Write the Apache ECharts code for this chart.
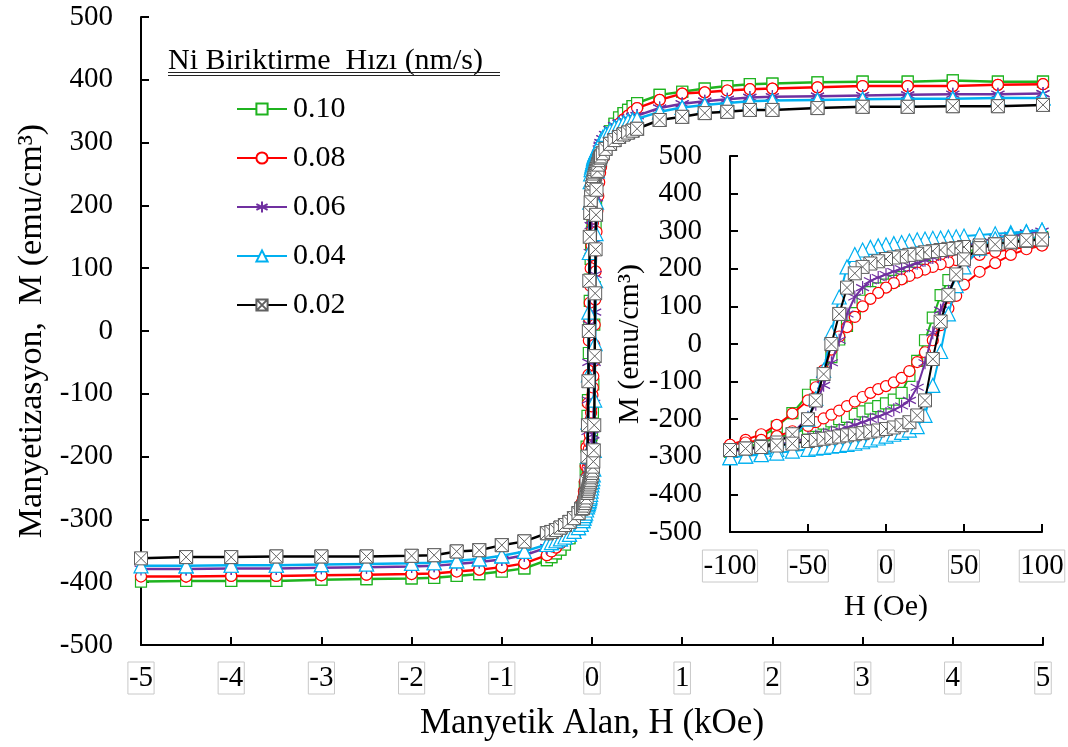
<!DOCTYPE html>
<html>
<head>
<meta charset="utf-8">
<script src="https://cdn.jsdelivr.net/npm/echarts@6/dist/echarts.min.js"></script>
<style>
  html, body { margin: 0; padding: 0; background: #ffffff; }
  #chart { width: 1068px; height: 747px; }
</style>
</head>
<body>
<div id="chart"></div>
<script>
// Ni deposition rates (nm/s), one hysteresis loop each
const SERIES_NAMES = ['0.10', '0.08', '0.06', '0.04', '0.02'];

// High-field points (kOe), shared by both branches of each loop
const H_POS_KOE = [0.12, 0.15, 0.2, 0.25, 0.3, 0.35, 0.4, 0.45, 0.5, 0.75, 1, 1.25, 1.5, 1.75, 2, 2.5, 3, 3.5, 4, 4.5, 5];
const H_NEG_KOE = [-0.12, -0.15, -0.2, -0.25, -0.3, -0.35, -0.4, -0.45, -0.5, -0.75, -1, -1.25, -1.5, -1.75, -2, -2.5, -3, -3.5, -4, -4.5, -5];

// Low-field points (Oe): descending branch (+100 -> -100) and ascending branch (-100 -> +100)
const H_DESC_OE = [100, 90, 80, 70, 60, 50, 45, 40, 35, 30, 25, 20, 15, 10, 5, 0, -5, -10, -15, -20, -25, -30, -35, -40, -45, -50, -60, -70, -80, -90, -100];
const H_ASC_OE = [-100, -90, -80, -70, -60, -50, -45, -40, -35, -30, -25, -20, -15, -10, -5, 0, 5, 10, 15, 20, 25, 30, 35, 40, 45, 50, 60, 70, 80, 90, 100];

// Magnetization (emu/cm3) — 0.10 nm/s
const M_POS_010 = [292, 303, 318, 330, 340, 347, 352, 358, 363, 376, 381, 386, 390, 393, 394, 396, 397, 397, 399, 397, 397];
const M_NEG_010 = [-292, -303, -318, -330, -340, -348, -354, -360, -365, -378, -383, -387, -390, -393, -394, -395, -396, -398, -398, -398, -399];
const M_DESC_010 = [284, 280, 273, 265, 255, 243, 237, 230, 222, 215, 207, 198, 190, 178, 168, 158, 148, 138, 115, 82, 48, 12, -35, -80, -110, -135, -184, -220, -248, -272, -286];
const M_ASC_010 = [-286, -275, -262, -250, -238, -225, -218, -212, -206, -200, -194, -186, -179, -172, -165, -158, -148, -130, -85, -45, 10, 70, 130, 170, 200, 230, 255, 267, 275, 280, 284];

// 0.08 nm/s
const M_POS_008 = [275, 290, 308, 320, 330, 337, 343, 349, 355, 368, 378, 380, 383, 385, 386, 388, 390, 390, 390, 392, 393];
const M_NEG_008 = [-275, -290, -308, -320, -330, -338, -345, -351, -357, -370, -376, -380, -383, -386, -387, -388, -389, -390, -390, -391, -391];
const M_DESC_008 = [262, 258, 252, 245, 237, 228, 223, 218, 212, 205, 198, 190, 181, 172, 162, 150, 136, 120, 100, 72, 45, 20, -15, -70, -115, -150, -185, -215, -240, -255, -268];
const M_ASC_008 = [-268, -262, -255, -245, -232, -218, -208, -198, -188, -177, -165, -153, -141, -130, -120, -112, -102, -90, -72, -48, -22, 10, 50, 95, 128, 158, 192, 215, 237, 252, 262];

// 0.06 nm/s
const M_POS_006 = [306, 313, 321, 327, 331, 335, 338, 341, 343, 355, 362, 366, 369, 372, 373, 374, 375, 376, 377, 377, 378];
const M_NEG_006 = [-306, -313, -321, -327, -331, -335, -338, -342, -345, -357, -364, -368, -371, -374, -375, -376, -377, -378, -378, -379, -379];
const M_DESC_006 = [300, 296, 290, 282, 272, 260, 253, 245, 238, 230, 223, 215, 208, 200, 193, 185, 177, 168, 150, 125, 80, 10, -50, -110, -160, -195, -238, -262, -275, -281, -285];
const M_ASC_006 = [-285, -280, -275, -268, -260, -250, -245, -240, -234, -228, -222, -215, -208, -200, -193, -185, -175, -165, -150, -115, -50, 30, 90, 140, 180, 212, 248, 270, 284, 294, 300];

// 0.04 nm/s
const M_POS_004 = [308, 313, 319, 324, 328, 331, 334, 336, 338, 349, 356, 360, 363, 366, 367, 368, 369, 370, 370, 371, 371];
const M_NEG_004 = [-308, -313, -319, -324, -328, -331, -334, -337, -340, -351, -358, -363, -366, -369, -370, -371, -372, -373, -373, -374, -374];
const M_DESC_004 = [303, 299, 296, 293, 290, 287, 285, 284, 282, 281, 279, 277, 274, 270, 267, 264, 261, 257, 250, 238, 205, 125, 30, -70, -145, -200, -255, -280, -292, -298, -302];
const M_ASC_004 = [-302, -298, -294, -290, -285, -280, -277, -275, -272, -270, -267, -264, -260, -255, -250, -245, -240, -235, -229, -220, -190, -110, -20, 80, 155, 205, 255, 280, 292, 298, 303];

// 0.02 nm/s
const M_POS_002 = [283, 290, 298, 304, 309, 313, 316, 319, 322, 336, 341, 347, 349, 352, 352, 355, 357, 357, 358, 358, 360];
const M_NEG_002 = [-283, -290, -298, -304, -309, -313, -317, -320, -322, -335, -341, -349, -351, -357, -358, -359, -359, -359, -360, -360, -362];
const M_DESC_002 = [278, 274, 270, 266, 262, 258, 255, 253, 250, 247, 244, 240, 237, 233, 230, 226, 220, 214, 205, 188, 150, 80, 0, -80, -150, -200, -240, -262, -272, -278, -282];
const M_ASC_002 = [-282, -278, -274, -270, -265, -258, -255, -252, -249, -246, -243, -240, -237, -233, -230, -226, -222, -216, -208, -190, -150, -40, 60, 130, 185, 225, 255, 265, 272, 276, 278];

const M_SETS = [
  [M_POS_010, M_NEG_010, M_DESC_010, M_ASC_010],
  [M_POS_008, M_NEG_008, M_DESC_008, M_ASC_008],
  [M_POS_006, M_NEG_006, M_DESC_006, M_ASC_006],
  [M_POS_004, M_NEG_004, M_DESC_004, M_ASC_004],
  [M_POS_002, M_NEG_002, M_DESC_002, M_ASC_002]
];

const FONT = '"Liberation Serif", "Times New Roman", serif';

// Marker shapes: asterisk and boxed cross are drawn as stroked paths
const ASTERISK = 'path://M5 0L5 10M0.7 2.5L9.3 7.5M9.3 2.5L0.7 7.5';
const XBOX = 'path://M0 0L10 0L10 10L0 10ZM0 0L10 10M10 0L0 10';

const STYLES = [
  { color: '#1fb31f', symbol: 'rect', size: 11 },
  { color: '#ff0000', symbol: 'circle', size: 11 },
  { color: '#7030a0', symbol: ASTERISK, size: 13 },
  { color: '#00b0f0', symbol: 'triangle', size: 14 },
  { color: '#000000', symbol: XBOX, size: 13, marker: '#606060', markerWidth: 1 }
];

// Full loop in kOe: +5 -> -5 (descending) then -5 -> +5 (ascending)
function loopKOe(set) {
  const [mPos, mNeg, mDesc, mAsc] = set;
  const pts = [];
  for (let i = H_POS_KOE.length - 1; i >= 0; i--) pts.push([H_POS_KOE[i], mPos[i]]);
  H_DESC_OE.forEach((h, i) => pts.push([h / 1000, mDesc[i]]));
  H_NEG_KOE.forEach((h, i) => pts.push([h, mNeg[i]]));
  for (let i = H_NEG_KOE.length - 2; i >= 0; i--) pts.push([H_NEG_KOE[i], mNeg[i]]);
  H_ASC_OE.forEach((h, i) => pts.push([h / 1000, mAsc[i]]));
  H_POS_KOE.forEach((h, i) => pts.push([h, mPos[i]]));
  return pts;
}

function makeSeries(idx, gridIdx, lineWidth) {
  const st = STYLES[idx];
  const pts = loopKOe(M_SETS[idx]);
  const data = gridIdx === 0 ? pts : pts.map(p => [p[0] * 1000, p[1]]);
  return {
    name: SERIES_NAMES[idx],
    type: 'line',
    xAxisIndex: gridIdx,
    yAxisIndex: gridIdx,
    data: data,
    symbol: st.symbol,
    symbolSize: st.size,
    showSymbol: true,
    clip: true,
    lineStyle: { color: st.color, width: lineWidth },
    itemStyle: { color: '#ffffff', borderColor: st.marker || st.color, borderWidth: st.markerWidth || 1.2 },
    emphasis: { disabled: true },
    z: 2 + idx
  };
}

const series = [];
for (let i = 0; i < SERIES_NAMES.length; i++) series.push(makeSeries(i, 0, 2.5));
for (let i = 0; i < SERIES_NAMES.length; i++) series.push(makeSeries(i, 1, 2));

const axisLineStyle = { color: '#000', width: 2 };
const tickLabel = { fontFamily: FONT, fontSize: 29, color: '#000' };

function xAxisCfg(gridIndex, min, max, interval, name, nameGap, labelMargin) {
  return {
    type: 'value', gridIndex, min, max, interval,
    axisLine: { onZero: false, lineStyle: axisLineStyle },
    axisTick: { inside: true, length: 8, lineStyle: axisLineStyle },
    splitLine: { show: false },
    axisLabel: Object.assign({}, tickLabel, {
      margin: labelMargin, borderColor: '#c8c8c8', borderWidth: 1, padding: [1, 1, 0, 1], lineHeight: 31
    }),
    name, nameLocation: 'middle', nameGap,
    nameTextStyle: { fontFamily: FONT, fontSize: gridIndex === 0 ? 35 : 30, color: '#000' }
  };
}

function yAxisCfg(gridIndex, name, nameGap) {
  return {
    type: 'value', gridIndex, min: -500, max: 500, interval: 100,
    axisLine: { onZero: false, lineStyle: axisLineStyle },
    axisTick: { inside: true, length: 8, lineStyle: axisLineStyle },
    splitLine: { show: false },
    axisLabel: Object.assign({}, tickLabel, { margin: 28 }),
    name, nameLocation: 'middle', nameRotate: 90, nameGap,
    nameTextStyle: { fontFamily: FONT, fontSize: gridIndex === 0 ? 34 : 30, color: '#000' }
  };
}

const chart = echarts.init(document.getElementById('chart'), null, { renderer: 'canvas' });
chart.setOption({
  animation: false,
  backgroundColor: '#ffffff',
  grid: [
    { left: 141, top: 17, width: 902, height: 628, outerBoundsMode: 'none' },
    { left: 730, top: 156, width: 312, height: 376, outerBoundsMode: 'none' }
  ],
  xAxis: [
    xAxisCfg(0, -5, 5, 1, 'Manyetik Alan, H (kOe)', 61, 17),
    xAxisCfg(1, -100, 100, 50, 'H (Oe)', 60, 18)
  ],
  yAxis: [
    yAxisCfg(0, 'Manyetizasyon,  M (emu/cm³)', 92),
    yAxisCfg(1, 'M (emu/cm³)', 58)
  ],
  legend: {
    data: SERIES_NAMES,
    orient: 'vertical',
    left: 236,
    top: 94,
    padding: 0,
    itemWidth: 50,
    itemHeight: 14,
    itemGap: 19,
    selectedMode: false,
    textStyle: { fontFamily: FONT, fontSize: 30, color: '#000', padding: [0, 0, 0, 1] }
  },
  graphic: [
    {
      type: 'text', left: 168, top: 46,
      style: { text: 'Ni Biriktirme  Hızı (nm/s)', font: '30px ' + FONT, fill: '#000' }
    },
    { type: 'line', shape: { x1: 168, y1: 72.5, x2: 500, y2: 72.5 }, style: { stroke: '#222', lineWidth: 1.2 } },
    { type: 'line', shape: { x1: 168, y1: 75.5, x2: 500, y2: 75.5 }, style: { stroke: '#222', lineWidth: 1.2 } }
  ],
  series: series
});
</script>
</body>
</html>
